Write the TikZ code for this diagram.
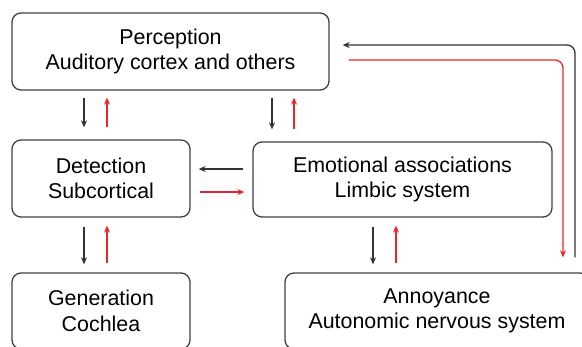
\documentclass[tikz,border=0pt]{standalone}
\usepackage{fontspec}
\setmainfont{Liberation Sans}
\usetikzlibrary{arrows.meta}
\definecolor{loopred}{RGB}{232,38,38}

\begin{document}
\begin{tikzpicture}[x=1pt,y=-1pt,
    box/.style={draw=black!75,line width=1.3pt,rounded corners=9pt,align=center,
      inner sep=0pt,font=\fontsize{21.4}{25.5}\selectfont},
    blk/.style={draw=black!80,line width=1.3pt,-{Stealth[length=7pt,width=6pt]}},
    rd/.style={draw=loopred,line width=1.3pt,-{Stealth[length=7pt,width=6pt]}}]
      \useasboundingbox (0,0) rectangle (582,346);
      \clip (0,0) rectangle (582,346);
      \draw
        (170.5,51.5) node[box,minimum width=317pt,minimum height=77pt] (percep){Perception\\Auditory cortex and others}
        (101,178.5) node[box,minimum width=178pt,minimum height=77pt] (detect){Detection\\Subcortical}
        (402.5,179.5) node[box,minimum width=299pt,minimum height=75pt] (emot){Emotional associations\\Limbic system}
        (101,311) node[box,minimum width=178pt,minimum height=76pt] (gener){Generation\\Cochlea}
        (437,311) node[box,minimum width=304pt,minimum height=76pt] (annoy){Annoyance\\Autonomic nervous system};
      \begin{scope}[shorten <=7pt,shorten >=12pt]
        \draw[blk] (84,0 |- percep.south) -- (84,0 |- detect.north);
        \draw[blk] (272,0 |- percep.south) -- (272,0 |- emot.north);
      \end{scope}
      \begin{scope}[shorten <=12pt,shorten >=7pt]
        \draw[rd] (107,0 |- detect.north) -- (107,0 |- percep.south);
        \draw[rd] (294,0 |- emot.north) -- (294,0 |- percep.south);
      \end{scope}
      \begin{scope}[shorten <=9pt,shorten >=8pt]
        \draw[blk] (84,0 |- detect.south) -- (84,0 |- gener.north);
        \draw[rd] (107,0 |- gener.north) -- (107,0 |- detect.south);
        \draw[blk] (373,0 |- emot.south) -- (373,0 |- annoy.north);
        \draw[rd] (396,0 |- annoy.north) -- (396,0 |- emot.south);
        \draw[blk] (emot.west |- 0,169) -- (detect.east |- 0,169);
        \draw[rd] (detect.east |- 0,192) -- (emot.west |- 0,192);
      \end{scope}
      \draw[blk,rounded corners=8pt,shorten <=15pt,shorten >=13pt]
        (575,0 |- annoy.north) -- (575,45) -- (percep.east |- 0,45);
      \draw[rd,rounded corners=8pt,shorten <=19pt,shorten >=15pt]
        (percep.east |- 0,60) -- (563,60) -- (563,0 |- annoy.north);
    \end{tikzpicture}
\end{document}
